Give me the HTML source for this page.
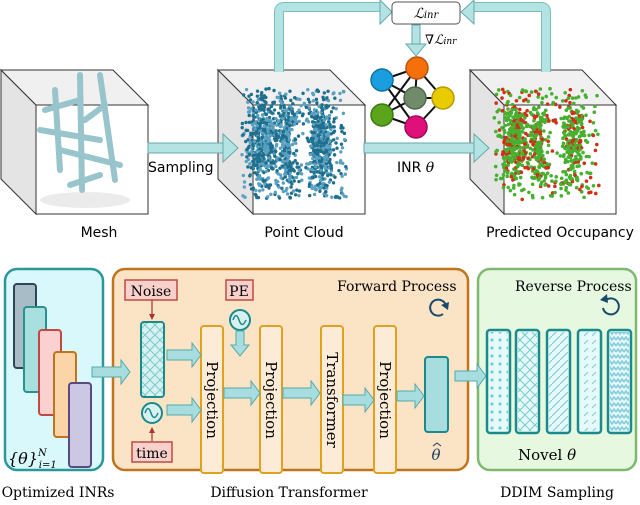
<!DOCTYPE html>
<html><head><meta charset="utf-8"><style>
html,body{margin:0;padding:0;background:#fff}
svg{display:block}
.s{font-family:"DejaVu Sans","Liberation Sans",sans-serif}
.r{font-family:"DejaVu Serif","Liberation Serif",serif}
</style></head><body>
<svg id="g" width="640" height="505" viewBox="0 0 640 505" xmlns="http://www.w3.org/2000/svg">
<defs>
<pattern id="hx" width="10" height="10" patternUnits="userSpaceOnUse"><path d="M0 0L10 10M10 0L0 10" stroke="#7cc" stroke-width="1"/></pattern>
<pattern id="dt" width="8" height="8" patternUnits="userSpaceOnUse"><circle cx="4" cy="4" r="1.6" fill="#7cd"/></pattern>
<pattern id="dg" width="8" height="8" patternUnits="userSpaceOnUse"><path d="M0 8L8 0" stroke="#8cd" stroke-width="1.2"/></pattern>
<pattern id="dd" width="8" height="8" patternUnits="userSpaceOnUse"><path d="M0 8L4 4" stroke="#8cd" stroke-width="1.2"/></pattern>
<pattern id="zz" width="8" height="6" patternUnits="userSpaceOnUse"><path d="M0 4L2 1L4 4L6 1L8 4" stroke="#8cd" stroke-width="1.6" fill="none"/></pattern>
</defs>
<g id="cubes" stroke="#333" stroke-width="1" fill="none"></g>
<path d="M279 72V12Q279 7 284 7H382" stroke="#7bbdbd" stroke-width="10" fill="none"/>
<path d="M279 72V12Q279 7 284 7H382" stroke="#b3e3e3" stroke-width="8" fill="none"/>
<polygon points="380,0 392,12 380,24" fill="#b3e3e3" stroke="#6aa" />
<path d="M546 72V12Q546 7 541 7H472" stroke="#7bbdbd" stroke-width="10" fill="none"/>
<path d="M546 72V12Q546 7 541 7H472" stroke="#b3e3e3" stroke-width="8" fill="none"/>
<polygon points="474,0 461,12 474,24" fill="#b3e3e3" stroke="#6aa"/>
<rect x="392" y="2" width="68" height="22" rx="4" fill="#fff" stroke="#555"/>
<text x="426" y="18" text-anchor="middle" class="r" font-style="italic" font-size="14">ℒ<tspan font-size="10">inr</tspan></text>
<rect x="412" y="25" width="8" height="20" fill="#b3e3e3" stroke="#6aa"/>
<polygon points="406,44 426,44 416,56" fill="#b3e3e3" stroke="#6aa"/>
<text x="425" y="44" class="r" font-style="italic" font-size="13">∇ℒ<tspan font-size="9">inr</tspan></text>
<g stroke="#111" stroke-width="2">
<line x1="382" y1="80" x2="417" y2="68"/><line x1="382" y1="80" x2="415" y2="98"/><line x1="382" y1="80" x2="416" y2="127"/>
<line x1="382" y1="115" x2="417" y2="68"/><line x1="382" y1="115" x2="415" y2="98"/><line x1="382" y1="115" x2="416" y2="127"/>
<line x1="417" y1="68" x2="443" y2="98"/><line x1="415" y1="98" x2="443" y2="98"/><line x1="416" y1="127" x2="443" y2="98"/><line x1="417" y1="68" x2="415" y2="98"/>
</g>
<circle cx="417" cy="68" r="11" fill="#f5700a" stroke="#c05010" stroke-width="1.5"/>
<circle cx="382" cy="80" r="11" fill="#1a9ee0" stroke="#1070a0" stroke-width="1.5"/>
<circle cx="415" cy="98" r="11" fill="#6f8b6a" stroke="#4a6a48" stroke-width="1.5"/>
<circle cx="443" cy="98" r="11" fill="#e8cc00" stroke="#b89a00" stroke-width="1.5"/>
<circle cx="382" cy="115" r="11" fill="#5aa51c" stroke="#3a7a10" stroke-width="1.5"/>
<circle cx="416" cy="127" r="11" fill="#e0107a" stroke="#a00858" stroke-width="1.5"/>
<rect x="148" y="143" width="77" height="10" fill="#b3e3e3" stroke="#6aa"/>
<polygon points="223,134 238,148 223,162" fill="#b3e3e3" stroke="#6aa"/>
<rect x="364" y="143" width="112" height="10" fill="#b3e3e3" stroke="#6aa"/>
<polygon points="474,134 489,148 474,162" fill="#b3e3e3" stroke="#6aa"/>
<text x="148" y="172" class="s" font-size="14">Sampling</text>
<text x="397" y="172" class="s" font-size="14">INR <tspan class="r" font-style="italic">θ</tspan></text>
<text x="99" y="237" text-anchor="middle" class="s" font-size="14">Mesh</text>
<text x="304" y="237" text-anchor="middle" class="s" font-size="14">Point Cloud</text>
<text x="560" y="237" text-anchor="middle" class="s" font-size="14">Predicted Occupancy</text>
<g id="dots"></g>

<rect x="5" y="269" width="98" height="201" rx="12" fill="#d9f8fb" stroke="#2a9898" stroke-width="2.5"/>
<rect x="113" y="269" width="355" height="201" rx="12" fill="#fbe3c6" stroke="#c0741e" stroke-width="2.5"/>
<rect x="478" y="269" width="158" height="201" rx="12" fill="#e6f8e0" stroke="#80b870" stroke-width="2.5"/>
<rect x="14" y="284" width="22" height="84" rx="3" fill="#a8bcc8" stroke="#345" stroke-width="2"/>
<rect x="24" y="307" width="22" height="85" rx="3" fill="#a8e0e0" stroke="#2a9090" stroke-width="2"/>
<rect x="39" y="330" width="22" height="85" rx="3" fill="#fbd0d0" stroke="#c04a40" stroke-width="2"/>
<rect x="54" y="352" width="22" height="85" rx="3" fill="#fbd4a8" stroke="#c0741e" stroke-width="2"/>
<rect x="69" y="383" width="22" height="84" rx="3" fill="#ccc8e4" stroke="#5a4a80" stroke-width="2"/>
<text x="8" y="464" class="r" font-size="16" font-style="italic">{θ}<tspan font-size="10" dy="-8">N</tspan><tspan font-size="10" dx="-8" dy="12">i=1</tspan></text>
<text x="58" y="497" text-anchor="middle" class="r" font-size="14">Optimized INRs</text>
<text x="289" y="497" text-anchor="middle" class="r" font-size="14">Diffusion Transformer</text>
<text x="557" y="497" text-anchor="middle" class="r" font-size="14">DDIM Sampling</text>
<text x="337" y="291" class="r" font-size="14">Forward Process</text>
<text x="515" y="291" class="r" font-size="14">Reverse Process</text>
<path d="M443 314 A 8 8 0 1 1 446 306" stroke="#1a4a6a" stroke-width="2" fill="none"/><polygon points="441,305 449,302 448,310" fill="#1a4a6a"/>
<path d="M603 308 A 8 8 0 1 0 606 300" stroke="#1a4a6a" stroke-width="2" fill="none"/>
<polygon points="600,300 607,294 608,303" fill="#1a4a6a"/>
<rect x="125" y="280" width="52" height="20" fill="#f8d0cc" stroke="#c04a40" stroke-width="1.5"/>
<text x="151" y="296" text-anchor="middle" class="r" font-size="14">Noise</text>
<rect x="226" y="280" width="27" height="20" fill="#f8d0cc" stroke="#c04a40" stroke-width="1.5"/>
<text x="239" y="296" text-anchor="middle" class="r" font-size="14">PE</text>
<rect x="132" y="442" width="40" height="20" fill="#f8d0cc" stroke="#c04a40" stroke-width="1.5"/>
<text x="152" y="458" text-anchor="middle" class="r" font-size="14">time</text>
<g stroke="#a33" stroke-width="1.2"><line x1="152" y1="300" x2="152" y2="316"/><line x1="152" y1="441" x2="152" y2="431"/></g>
<polygon points="149,314 155,314 152,320" fill="#a33"/><polygon points="149,433 155,433 152,427" fill="#a33"/>
<rect x="141" y="322" width="23" height="75" rx="3" fill="#d9f0f0" stroke="#1a8a8a" stroke-width="2"/>
<rect x="142" y="323" width="21" height="73" fill="url(#hx)"/>
<circle cx="152" cy="413" r="10" fill="#d9f0f0" stroke="#1a8a8a" stroke-width="2"/>
<path d="M145 413 Q148 404 151 413 T158 413" stroke="#1a8a8a" fill="none" stroke-width="1.5"/>
<circle cx="240" cy="320" r="10" fill="#d9f0f0" stroke="#1a8a8a" stroke-width="2"/>
<path d="M233 320 Q236 311 239 320 T246 320" stroke="#1a8a8a" fill="none" stroke-width="1.5"/>
<g fill="#fcebd6" stroke="#e0a020" stroke-width="2">
<rect x="201" y="326" width="22" height="147" rx="3"/><rect x="260" y="326" width="22" height="147" rx="3"/>
<rect x="321" y="326" width="22" height="147" rx="3"/><rect x="374" y="326" width="22" height="147" rx="3"/>
</g>
<text class="r" font-size="15" transform="translate(207,400) rotate(90)" text-anchor="middle">Projection</text>
<text class="r" font-size="15" transform="translate(266,400) rotate(90)" text-anchor="middle">Projection</text>
<text class="r" font-size="15" transform="translate(327,400) rotate(90)" text-anchor="middle">Transformer</text>
<text class="r" font-size="15" transform="translate(380,400) rotate(90)" text-anchor="middle">Projection</text>
<rect x="425" y="357" width="23" height="75" rx="3" fill="#a8dde0" stroke="#1a8a8a" stroke-width="2"/>
<text x="436" y="460" text-anchor="middle" class="r" font-size="15" font-style="italic" fill="#1a3a5a">θ</text>
<path d="M433 446 L437 443 L441 446" stroke="#1a3a5a" fill="none" stroke-width="1"/>
<g stroke="#1a8a8a" stroke-width="2.5">
<rect x="487" y="330" width="23" height="103" rx="3" fill="#e6fafa"/>
<rect x="516" y="330" width="23" height="103" rx="3" fill="#e6fafa"/>
<rect x="547" y="330" width="23" height="103" rx="3" fill="#e6fafa"/>
<rect x="578" y="330" width="23" height="103" rx="3" fill="#e6fafa"/>
<rect x="608" y="330" width="23" height="103" rx="3" fill="#e6fafa"/>
</g>
<rect x="489" y="332" width="19" height="99" fill="url(#dt)"/>
<rect x="518" y="332" width="19" height="99" fill="url(#hx)"/>
<rect x="549" y="332" width="19" height="99" fill="url(#dg)"/>
<rect x="580" y="332" width="19" height="99" fill="url(#dd)"/>
<rect x="610" y="332" width="19" height="99" fill="url(#zz)"/>
<text x="518" y="460" class="r" font-size="15">Novel <tspan font-style="italic">θ</tspan></text>
<g id="barr" fill="#a8dde0" stroke="#5aa" stroke-width="1"></g>
</svg>
<script>
var NS="http://www.w3.org/2000/svg",svg=document.getElementById('g');
function el(p,t,a){var e=document.createElementNS(NS,t);for(var k in a)e.setAttribute(k,a[k]);p.appendChild(e);return e;}
var cg=document.getElementById('cubes');
[[1,36],[218,253],[470,504]].forEach(function(c){
 var b=c[0],f=c[1];
 el(cg,'polygon',{points:b+',70 '+f+',105 '+f+',214 '+b+',179',fill:'#e4e4e4'});
 el(cg,'polygon',{points:b+',70 '+(b+112)+',70 '+(f+112)+',105 '+f+',105',fill:'#f0f0f0'});
 el(cg,'rect',{x:f,y:105,width:112,height:109,fill:'#fff'});
});
var seed=7;function R(){seed=(seed*16807)%2147483647;return seed/2147483647;}
function G(){return (R()+R()+R()-1.5)/1.5;}
var d=document.getElementById('dots');
el(d,'ellipse',{cx:85,cy:200,rx:45,ry:8,fill:'#ddd',opacity:.6});
var br=[[55,90,60,170],[40,130,100,140],[80,75,82,190],[100,75,115,180],[60,150,120,165],[45,110,80,100],[85,120,105,105],[70,185,100,175]];
br.forEach(function(b){el(d,'line',{x1:b[0],y1:b[1],x2:b[2],y2:b[3],stroke:'#98c4cc','stroke-width':6,'stroke-linecap':'round'});});
var cols=[0.2,0.45,0.75];
function cloud(x0,y0,n,fn){for(var i=0;i<n;i++){var c=cols[Math.floor(R()*3)];var x=x0+(c+G()*0.18)*105,y=y0+(0.5+G()*0.55)*110;
 if(R()<0.25){x=x0+R()*105;y=y0+R()*110;}
 if(x>x0+48&&x<x0+68&&y>y0+35&&y<y0+75&&R()<.85)continue;fn(x,y);}}
cloud(242,88,1400,function(x,y){el(d,'circle',{cx:x,cy:y,r:1.7,fill:R()<.55?'#1f6e8e':'#5aa0c0'});});
cloud(494,88,1000,function(x,y){el(d,'circle',{cx:x,cy:y,r:1.8,fill:R()<.72?'#48b030':'#d03018'});});
var ba=document.getElementById('barr');
function arr(x1,x2,y){el(ba,'polygon',{points:x1+','+(y-5)+' '+(x2-9)+','+(y-5)+' '+(x2-9)+','+(y-12)+' '+x2+','+y+' '+(x2-9)+','+(y+12)+' '+(x2-9)+','+(y+5)+' '+x1+','+(y+5)});}
arr(92,130,372);arr(167,201,355);arr(167,201,410);arr(224,260,393);arr(283,320,393);arr(343,374,400);arr(397,424,396);arr(455,486,376);
el(ba,'polygon',{points:'236,331 244,331 244,345 249,345 240,356 231,345 236,345'});
</script>
</body></html>
